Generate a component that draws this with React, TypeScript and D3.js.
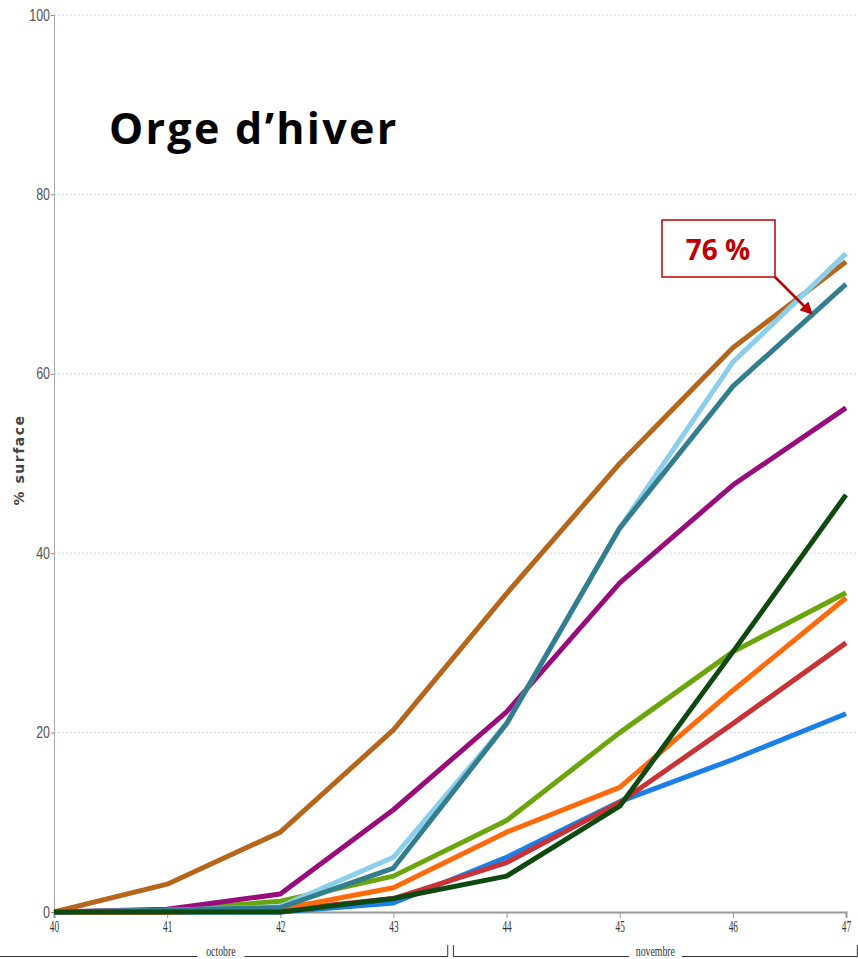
import { useEffect, useRef } from "react"
import * as d3 from "d3"

const weeks = [40, 41, 42, 43, 44, 45, 46, 47]
const yTicks = [0, 20, 40, 60, 80, 100]

const brown = [0, 3.1, 8.9, 20.3, 35.5, 50, 62.9, 72.5]
const lightBlue = [0, 0.2, 0.6, 6.1, 21, 42.8, 61.3, 73.4]
const teal = [0, 0.2, 0.5, 4.9, 21, 42.8, 58.6, 70]
const purple = [0, 0.3, 2, 11.4, 22.3, 36.7, 47.6, 56.2]
const green = [0, 0.2, 1.2, 4, 10.2, 20, 29, 35.6]
const orange = [0, 0, 0.3, 2.7, 8.9, 13.9, 24.7, 35]
const red = [0, 0, 0.2, 1.5, 5.5, 12.2, 21, 30]
const blue = [0, 0, 0, 1, 6.1, 12.3, 17, 22.1]
const darkGreen = [0, 0, 0, 1.5, 4, 11.8, 29, 46.5]

const series = [
  { name: "bleu", color: "#1a7fe6", values: blue },
  { name: "rouge", color: "#c93236", values: red },
  { name: "orange", color: "#ff6a0a", values: orange },
  { name: "vert", color: "#6aa50c", values: green },
  { name: "violet", color: "#990c7c", values: purple },
  { name: "brun", color: "#b5661a", values: brown },
  { name: "bleu clair", color: "#8ccfec", values: lightBlue },
  { name: "bleu canard", color: "#337e8e", values: teal },
  { name: "vert foncé", color: "#0e4a10", values: darkGreen },
]

const months = [
  { label: "octobre", from: 39.47, to: 43.48 },
  { label: "novembre", from: 43.53, to: 47.1 },
]

export default function App() {
  const ref = useRef<SVGSVGElement>(null)

  useEffect(() => {
    const svg = d3.select(ref.current)
    svg.selectAll("*").remove()

    const x = d3.scaleLinear().domain([40, 47]).range([54, 846])
    const y = d3.scaleLinear().domain([0, 100]).range([912, 15])

    // narrow tick labels: squeeze horizontally
    const squeeze = (sel: any, k: number) => {
      sel.each(function (this: SVGTextElement) {
        const t = d3.select(this)
        const x0 = +(t.attr("x") || 0)
        t.attr("x", x0 / k).attr("transform", `scale(${k},1)`)
      })
    }

    // grid lines
    svg.append("g")
      .selectAll("line")
      .data(yTicks.filter(d => d > 0))
      .join("line")
      .attr("x1", 54).attr("x2", 858)
      .attr("y1", d => y(d)).attr("y2", d => y(d))
      .attr("stroke", "#d4d4d4")
      .attr("stroke-dasharray", "2,2")

    // y axis
    const yAxis = svg.append("g")
      .attr("transform", "translate(54,0)")
      .call(d3.axisLeft(y).tickValues(yTicks).tickSize(3).tickPadding(1))
    yAxis.select(".domain").attr("stroke", "#aaa")
    yAxis.selectAll(".tick line").attr("stroke", "#888")
    yAxis.selectAll("text")
      .attr("fill", "#555")
      .style("font-family", "'Liberation Sans', sans-serif")
      .style("font-size", "16px")
    squeeze(yAxis.selectAll("text"), 0.78)

    // x axis
    const xAxis = svg.append("g")
      .attr("transform", "translate(0,912)")
      .call(d3.axisBottom(x).tickValues(weeks).tickSize(6).tickPadding(3).tickFormat(d3.format("d")))
    xAxis.select(".domain").attr("stroke", "#999").attr("stroke-width", 2)
    xAxis.selectAll(".tick line").attr("stroke", "#999")
    xAxis.selectAll("text")
      .attr("fill", "#333")
      .style("font-family", "'Liberation Serif', serif")
      .style("font-size", "16px")
    squeeze(xAxis.selectAll("text"), 0.58)

    // month brackets
    const mg = svg.append("g").selectAll("g").data(months).join("g")
    mg.append("path")
      .attr("d", d => `M${x(d.from)},945V956.5H${x(d.to)}V945`)
      .attr("fill", "none")
      .attr("stroke", "#333")
      .attr("stroke-width", 1)
    mg.append("rect")
      .attr("x", d => (x(d.from) + x(d.to)) / 2 - (d.label.length * 2.8 + 4))
      .attr("y", 946)
      .attr("width", d => d.label.length * 5.6 + 8)
      .attr("height", 13)
      .attr("fill", "#fff")
    const mt = mg.append("text")
      .attr("x", d => (x(d.from) + x(d.to)) / 2)
      .attr("y", 956)
      .attr("text-anchor", "middle")
      .attr("fill", "#333")
      .style("font-family", "'Liberation Serif', serif")
      .style("font-size", "14px")
      .text(d => d.label)
    squeeze(mt, 0.7)

    // y title
    svg.append("text")
      .attr("transform", "translate(24,460) rotate(-90)")
      .attr("text-anchor", "middle")
      .attr("fill", "#444")
      .style("font-family", "'DejaVu Sans', sans-serif")
      .style("font-size", "14px")
      .style("font-weight", "bold")
      .style("letter-spacing", "1.5px")
      .text("% surface")

    // lines
    const line = d3.line<number>()
      .x((_, i) => x(weeks[i]))
      .y(d => y(d))

    svg.append("g")
      .selectAll("path")
      .data(series)
      .join("path")
      .attr("d", d => line(d.values))
      .attr("fill", "none")
      .attr("stroke", d => d.color)
      .attr("stroke-width", 5)
      .attr("stroke-linejoin", "round")

    // title
    svg.append("text")
      .attr("x", 109)
      .attr("y", 144)
      .attr("fill", "#000")
      .style("font-family", "'Open Sans', sans-serif")
      .style("font-size", "43px")
      .style("font-weight", "bold")
      .style("letter-spacing", "2.3px")
      .text("Orge d’hiver")

    // annotation
    const defs = svg.append("defs")
    defs.append("marker")
      .attr("id", "arrow")
      .attr("viewBox", "0 0 10 10")
      .attr("refX", 8).attr("refY", 5)
      .attr("markerWidth", 5).attr("markerHeight", 5)
      .attr("orient", "auto")
      .append("path")
      .attr("d", "M0,0L10,5L0,10z")
      .attr("fill", "#c00000")

    svg.append("rect")
      .attr("x", 662).attr("y", 220)
      .attr("width", 113).attr("height", 57)
      .attr("fill", "#fff")
      .attr("stroke", "#c00000")
      .attr("stroke-width", 1.5)
    svg.append("text")
      .attr("x", 718).attr("y", 260)
      .attr("text-anchor", "middle")
      .attr("fill", "#c00000")
      .style("font-family", "'Open Sans', sans-serif")
      .style("font-size", "28px")
      .style("font-weight", "bold")
      .text("76 %")
    svg.append("line")
      .attr("x1", 775).attr("y1", 277)
      .attr("x2", 811).attr("y2", 313)
      .attr("stroke", "#c00000")
      .attr("stroke-width", 2.5)
      .attr("marker-end", "url(#arrow)")
  }, [])

  return (
    <svg
      ref={ref}
      width={858}
      height={959}
      style={{ position: "absolute", left: 0, top: 0, background: "#fff" }}
    />
  )
}
